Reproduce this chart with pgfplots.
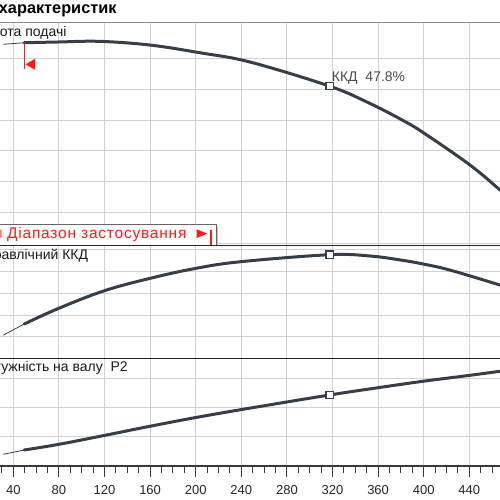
\documentclass[border=0pt]{standalone}
\usepackage{fontspec}
\setmainfont{Liberation Sans}
\usepackage{pgfplots}
\pgfplotsset{compat=1.18}

\definecolor{curve}{HTML}{363E48}
\definecolor{gridc}{HTML}{D2D2D2}
\definecolor{framec}{HTML}{8C8C8C}
\definecolor{axc}{HTML}{3A3A3A}
\definecolor{rng}{HTML}{FF1A1A}

\newcommand\lbl{\fontsize{14}{16}\selectfont}

\pgfplotsset{
  panel/.style={
    scale only axis, width=547.2pt,
    xmin=0, xmax=480,
    anchor=south west,
    axis line style={draw=none},
    xtick={40,80,...,440},
    grid=major,
    major grid style={draw=gridc, line width=0.9pt},
    ytick style={draw=none}, yticklabels={},
  },
  upper/.style={panel, xticklabels={}, xtick style={draw=none}},
  thinc/.style={curve, line width=0.8pt},
  bep/.style={only marks, mark=square*, mark size=3.6pt,
    mark options={draw=curve, fill=white, line width=1.5pt}},
}

\begin{document}
\begin{tikzpicture}
\useasboundingbox (0pt,0pt) rectangle (500pt,500pt);
\clip (0pt,0pt) rectangle (500pt,500pt);

% head, m
\begin{axis}[upper, at={(-32.3pt,254pt)}, height=223.3pt,
    ymin=1.825, ymax=16.311, ytick={2,4,...,14}]
\addplot[thinc] coordinates {(31.2,14.91) (49.5,15.01)};
\addplot[curve, line width=3pt, smooth, tension=0.6, line cap=round] coordinates {
  (49.5,15.01) (80,15.06) (116,15.10) (160,14.86) (203.8,14.36)
  (247.6,13.76) (317.2,12.2) (352.9,11.07) (381.8,9.97) (399.6,9.18)
  (440.6,7.08) (466.9,5.46) (480,4.6)};
% start of the range
\addplot[rng, line width=1pt] coordinates {(49.5,15.01) (49.5,13.29)};
\addplot[only marks, mark=triangle*, mark size=6pt,
  mark options={rotate=90, fill=rng, draw=rng}] coordinates {(56.4,13.61)};
\addplot[bep] coordinates {(317.5,12.2)};
\end{axis}

% hydraulic efficiency, %
\begin{axis}[upper, at={(-32.3pt,141.7pt)}, height=112.3pt,
    ymin=0, ymax=51.82, ytick={0,10,...,50}]
\addplot[thinc] coordinates {(31.2,10.7) (49.5,15.8)};
\addplot[curve, line width=3pt, smooth, tension=0.6, line cap=round] coordinates {
  (49.5,15.8) (80,23.1) (120,31.2) (160,36.9) (200,41.5) (240,44.6)
  (317.5,47.8) (353,47.2) (379.2,45.4) (399.6,43.5) (423.1,40.7)
  (466.9,33.8) (480,31.5)};
\addplot[bep] coordinates {(317.5,47.8)};
\end{axis}

% shaft power P2, kW
\begin{axis}[panel, at={(-32.3pt,34pt)}, height=107.7pt,
    ymin=0, ymax=36.85, ytick={0,10,20,30},
    xtick pos=bottom, tick align=outside,
    minor xtick={0,10,...,480},
    major tick length=11pt, minor tick length=7pt,
    xtick style={draw=axc, line width=1pt},
    xticklabel style={font=\fontsize{13}{15}\selectfont, text=black!85, yshift=-5pt},
    /pgf/number format/assume math mode=true]
\addplot[thinc] coordinates {(31.2,4.0) (49.5,5.47)};
\addplot[curve, line width=3pt, smooth, tension=0.6, line cap=round] coordinates {
  (49.5,5.47) (80,7.42) (120.4,10.5) (160,13.6) (200.3,16.6)
  (247.6,19.8) (317.5,24.3) (360.2,26.8) (399.6,29.0) (440,31.0)
  (466.9,32.4) (480,33.0)};
\addplot[bep] coordinates {(317.5,24.3)};
\end{axis}

% frame lines
\draw[framec, line width=1.6pt] (0pt,477.3pt) -- (500pt,477.3pt);
\draw[axc, line width=1.2pt] (0pt,34pt) -- (500pt,34pt);
\draw[black!85, line width=0.9pt] (0pt,141.7pt) -- (500pt,141.7pt);

% operating range box
\fill[black!25] (-5pt,253.5pt) rectangle (218.2pt,274.2pt);
\filldraw[fill=white, draw=black!60, line width=0.8pt] (-5pt,254.7pt) rectangle (216.7pt,275.7pt);
\fill[rng] (-14pt,262pt) rectangle (-12.6pt,270.7pt);
\fill[rng!60] (1.6pt,270.7pt) -- (1.6pt,262pt) -- (-9pt,266.35pt) -- cycle;
\node[anchor=base west, inner sep=0pt, text=rng,
  font=\fontsize{15.5}{17}\selectfont\addfontfeature{LetterSpace=5}] at (7pt,261.3pt) {Діапазон застосування};
\fill[rng] (196.7pt,270.7pt) -- (196.7pt,262pt) -- (207.3pt,266.35pt) -- cycle;
\fill[rng] (210.3pt,254.7pt) rectangle (211.7pt,270pt);
\draw[black!85, line width=0.9pt] (0pt,254.5pt) -- (500pt,254.5pt);

% texts
\node[anchor=base east, inner sep=0pt, font=\fontsize{16.3}{18}\selectfont\bfseries] at (116.7pt,486pt) {Графік характеристик};
\node[anchor=base east, inner sep=0pt, font=\lbl, text=black!90] at (66.7pt,463.3pt) {Висота подачі};
\node[anchor=base west, inner sep=0pt, font=\lbl, text=black!70] at (331.7pt,418.3pt) {ККД\ \ 47.8\%};
\node[anchor=base east, inner sep=0pt, font=\lbl, text=black!90] at (88.3pt,240.5pt) {Гідравлічний ККД};
\node[anchor=base east, inner sep=0pt, font=\lbl, text=black!90] at (128pt,128.3pt) {Потужність на валу\ \ P2};
\end{tikzpicture}
\end{document}
